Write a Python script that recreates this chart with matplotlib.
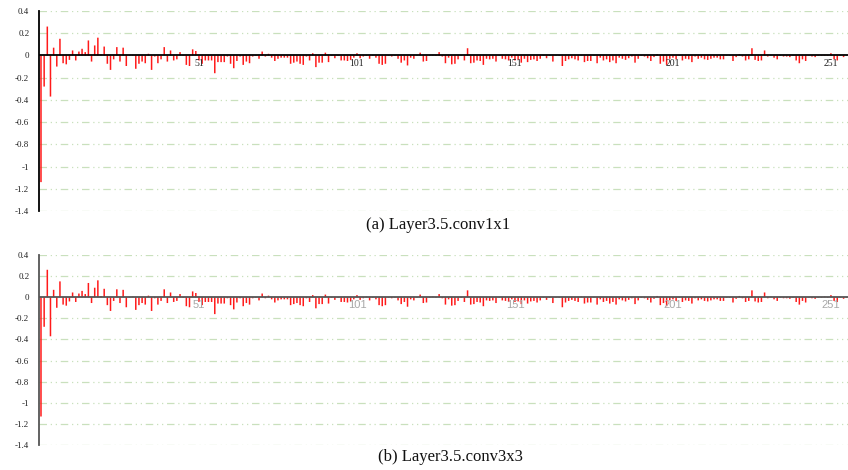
import matplotlib
matplotlib.use("Agg")
import matplotlib.pyplot as plt
import numpy as np

# ====================== data ======================
conv1x1 = [
    -1.14, -0.28, 0.26, -0.37, 0.07, -0.10, 0.15, -0.07, -0.08, -0.04,
    0.045, -0.045, 0.035, 0.06, 0.03, 0.135, -0.055, 0.09, 0.16, 0.01,
    0.08, -0.075, -0.13, -0.035, 0.075, -0.055, 0.07, -0.095, -0.005, 0.005,
    -0.12, -0.075, -0.055, -0.07, 0.015, -0.13, -0.01, -0.07, -0.035, 0.075,
    -0.055, 0.045, -0.045, -0.035, 0.03, -0.005, -0.085, -0.095, 0.055, 0.04,
    -0.045, -0.075, -0.045, -0.045, -0.045, -0.16, -0.06, -0.06, -0.06, -0.01,
    -0.075, -0.115, -0.05, -0.01, -0.085, -0.055, -0.07, -0.01, -0.005, -0.03,
    0.035, -0.01, 0.015, -0.02, -0.05, -0.03, -0.02, -0.02, -0.02, -0.075,
    -0.065, -0.055, -0.075, -0.085, -0.01, -0.045, 0.02, -0.105, -0.065, -0.065,
    0.025, -0.06, -0.005, -0.025, -0.005, -0.045, -0.045, -0.05, -0.04, -0.02,
    0.02, -0.025, -0.01, 0.005, -0.03, -0.005, -0.02, -0.075, -0.085, -0.075,
    -0.005, -0.01, -0.005, -0.03, -0.065, -0.045, -0.09, -0.02, -0.03, -0.005,
    0.025, -0.055, -0.05, -0.005, 0.005, -0.005, 0.03, -0.01, -0.07, -0.02,
    -0.08, -0.075, -0.035, -0.005, -0.045, 0.065, -0.07, -0.065, -0.045, -0.05,
    -0.085, -0.03, -0.035, -0.03, -0.055, -0.005, -0.03, -0.035, -0.045, -0.02,
    -0.045, -0.04, -0.065, -0.03, -0.06, -0.04, -0.035, -0.05, -0.03, -0.005,
    -0.025, -0.005, -0.055, -0.005, -0.005, -0.095, -0.05, -0.035, -0.025, -0.035,
    -0.045, 0.005, -0.06, -0.05, -0.05, -0.005, -0.07, -0.02, -0.045, -0.035,
    -0.06, -0.045, -0.07, -0.02, -0.03, -0.04, -0.025, -0.01, -0.065, -0.03,
    -0.005, -0.01, -0.025, -0.05, -0.015, 0.012, -0.075, -0.055, -0.085, -0.03,
    -0.02, -0.035, -0.005, -0.045, -0.03, -0.035, -0.06, -0.01, -0.03, -0.02,
    -0.035, -0.04, -0.03, -0.02, -0.02, -0.035, -0.035, -0.005, -0.005, -0.05,
    -0.015, 0.012, -0.01, -0.045, -0.035, 0.065, -0.04, -0.05, -0.045, 0.045,
    -0.01, 0.005, -0.02, -0.035, -0.005, -0.01, -0.01, -0.015, -0.005, -0.045,
    -0.07, -0.035, -0.05, -0.005, -0.01, -0.015, -0.005, -0.005, 0.005, -0.005,
    0.02, -0.035, -0.045, -0.005, -0.015, -0.005,
]
# the second layer reads the same almost everywhere
conv3x3 = list(conv1x1)
conv3x3[0] = -1.13

channels = np.arange(1, len(conv1x1) + 1)
x_ticks = [51, 101, 151, 201, 251]
y_ticks = [0.4, 0.2, 0, -0.2, -0.4, -0.6, -0.8, -1, -1.2, -1.4]
captions = ["(a) Layer3.5.conv1x1", "(b) Layer3.5.conv3x3"]

SERIF = ["Liberation Serif", "DejaVu Serif"]
GRID_C = "#c9e0bd"

fig = plt.figure(figsize=(8.48, 4.70), dpi=100)

W = 848.0
H = 470.0


def make_panel(rect, values, axis_color, xlab_color, xlab_family, xlab_size):
    ax = fig.add_axes(rect)
    bars = ax.bar(channels, values, width=0.48, color="#ff1a1a", linewidth=0)
    for b in bars:
        b.set_snap(False)
    ax.set_xlim(0.37, 256.4)
    ax.set_ylim(-1.4, 0.4)

    # dash-dot-dot grid, skipping the zero line
    for yv in y_ticks:
        if yv != 0:
            ax.axhline(yv, color=GRID_C, lw=0.9, ls=(0, (6, 3, 1, 3, 1, 3)), zorder=0)
    ax.axhline(0, color=axis_color, lw=1.3, zorder=3)

    for s in ["top", "right", "bottom"]:
        ax.spines[s].set_visible(False)
    ax.spines["left"].set_color(axis_color)
    ax.spines["left"].set_linewidth(1.3)

    ax.set_yticks(y_ticks)
    ax.set_yticklabels([f"{v:g}" for v in y_ticks], family=SERIF, fontsize=6.5,
                       color="#222222")
    ax.tick_params(axis="y", length=0, pad=7)
    ax.set_xticks([])

    # channel labels sit just under the zero line
    for t in x_ticks:
        ax.text(t, -0.03, str(t), ha="center", va="top", fontsize=xlab_size,
                family=xlab_family, color=xlab_color)
    return ax


make_panel([39 / W, 1 - 211 / H, (848 - 39) / W, 200 / H], conv1x1,
           "#000000", "#222222", SERIF, 7)
make_panel([39 / W, 1 - 445 / H, (848 - 39) / W, 190 / H], conv3x3,
           "#555555", "#a8a8a8", ["Liberation Sans", "DejaVu Sans"], 8)

fig.text(438 / W, 1 - 225 / H, captions[0], ha="center", va="center",
         family=SERIF, fontsize=12, color="#111111")
fig.text(450 / W, 1 - 457 / H, captions[1], ha="center", va="center",
         family=SERIF, fontsize=12, color="#111111")

fig.savefig("out.png", dpi=100)
